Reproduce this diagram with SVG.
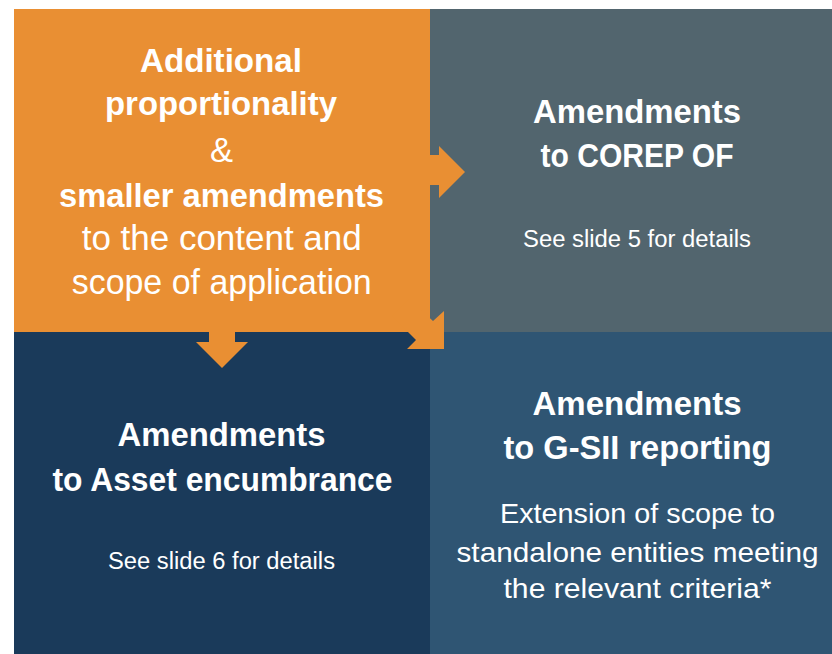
<svg xmlns="http://www.w3.org/2000/svg" width="832" height="654" viewBox="0 0 832 654">
  <style>
    .t { font-family: "Liberation Sans", Arial, sans-serif; fill: #ffffff; text-anchor: middle; }
    .b { font-weight: bold; font-size: 33.5px; }
    .r { font-weight: normal; font-size: 34.5px; }
    .m { font-weight: normal; font-size: 28.5px; }
    .s { font-weight: normal; font-size: 23.5px; }
    .arrow { fill: #E98F33; }
  </style>
  <rect x="0" y="0" width="832" height="654" fill="#ffffff"/>

  <!-- Amendments to COREP OF -->
  <g id="corep">
    <rect x="430" y="9" width="402" height="323" fill="#52656E"/>
    <text class="t b" x="637" y="123" textLength="208" lengthAdjust="spacingAndGlyphs">Amendments</text>
    <text class="t b" x="637" y="166.5" textLength="193" lengthAdjust="spacingAndGlyphs">to COREP OF</text>
    <text class="t s" x="637" y="246.5" textLength="228" lengthAdjust="spacingAndGlyphs">See slide 5 for details</text>
  </g>

  <!-- Amendments to Asset encumbrance -->
  <g id="asset-encumbrance">
    <rect x="14" y="332" width="416" height="322" fill="#1A3A5A"/>
    <text class="t b" x="221.5" y="446" textLength="208" lengthAdjust="spacingAndGlyphs">Amendments</text>
    <text class="t b" x="222.5" y="491" textLength="340" lengthAdjust="spacingAndGlyphs">to Asset encumbrance</text>
    <text class="t s" x="221.5" y="569" textLength="227" lengthAdjust="spacingAndGlyphs">See slide 6 for details</text>
  </g>

  <!-- Amendments to G-SII reporting -->
  <g id="gsii">
    <rect x="430" y="332" width="402" height="322" fill="#2F5573"/>
    <text class="t b" x="637" y="415" textLength="209" lengthAdjust="spacingAndGlyphs">Amendments</text>
    <text class="t b" x="637.5" y="459" textLength="268" lengthAdjust="spacingAndGlyphs">to G-SII reporting</text>
    <text class="t m" x="637.5" y="523" textLength="275" lengthAdjust="spacingAndGlyphs">Extension of scope to</text>
    <text class="t m" x="637.5" y="561.5" textLength="362" lengthAdjust="spacingAndGlyphs">standalone entities meeting</text>
    <text class="t m" x="637.5" y="598" textLength="268" lengthAdjust="spacingAndGlyphs">the relevant criteria*</text>
  </g>

  <!-- Additional proportionality & smaller amendments -->
  <g id="proportionality">
    <rect x="14" y="9" width="416" height="323" fill="#E98F33"/>
    <text class="t b" x="221" y="72" textLength="162" lengthAdjust="spacingAndGlyphs">Additional</text>
    <text class="t b" x="221" y="115" textLength="232" lengthAdjust="spacingAndGlyphs">proportionality</text>
    <text class="t r" x="221.5" y="161.5">&amp;</text>
    <text class="t b" x="221.5" y="206.5" textLength="325" lengthAdjust="spacingAndGlyphs">smaller amendments</text>
    <text class="t r" x="221.7" y="250" textLength="280" lengthAdjust="spacingAndGlyphs">to the content and</text>
    <text class="t r" x="221.7" y="293.5" textLength="300" lengthAdjust="spacingAndGlyphs">scope of application</text>
  </g>

  <!-- Arrows from the orange block to the three others -->
  <g id="connectors">
    <polygon class="arrow" points="420,155 439,155 439,146 465,172 439,198 439,185 420,185"/>
    <polygon class="arrow" points="209,320 235,320 235,342 248,342 222,368 196,342 209,342"/>
    <polygon class="arrow" points="444,311 444,349 407,349 416,340 392,316 409,299 433,321"/>
  </g>
</svg>
